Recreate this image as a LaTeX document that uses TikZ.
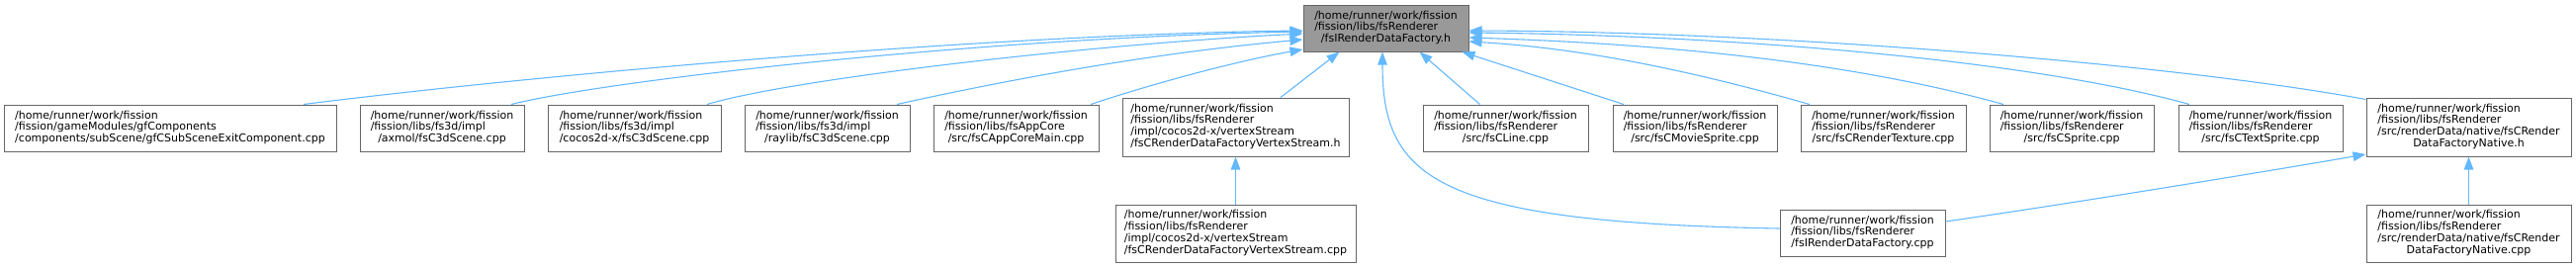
\documentclass[tikz,border=0pt]{standalone}
\usepackage{fontspec}
\setmainfont{DejaVu Sans}
\usetikzlibrary{arrows.meta}
\definecolor{edgeblue}{HTML}{63B8FF}
\definecolor{boxline}{HTML}{666666}
\definecolor{topfill}{HTML}{999999}
% left-aligned lines, last line centred
\newcommand{\flab}[2]{\begin{tabular}{@{}l@{}}#1\\\multicolumn{1}{@{}c@{}}{#2}\end{tabular}}

\begin{document}
\begin{tikzpicture}[x=1pt,y=-1pt,>={Triangle[length=13pt,width=9.5pt]}]
\tikzstyle{filebox}=[draw=boxline, fill=white, line width=1pt, inner sep=0pt, minimum height=47pt, font=\fontsize{11}{11.7}\selectfont]
\tikzstyle{tallbox}=[filebox, minimum height=59pt]
\tikzstyle{dep}=[->, draw=edgeblue, line width=1.1pt]
\useasboundingbox (0,0) rectangle (2605,271);

% Included header
\node[filebox, fill=topfill, minimum width=167pt] (top) at (1401.5,28.5) {\flab{/home/runner/work/fission\\/fission/libs/fsRenderer}{/fsIRenderDataFactory.h}};

% First row
\node[filebox, minimum width=336pt] (subexit) at (172,129.5) {\flab{/home/runner/work/fission\\/fission/gameModules/gfComponents}{/components/subScene/gfCSubSceneExitComponent.cpp}};
\node[filebox, minimum width=166pt] (axmol) at (447,129.5) {\flab{/home/runner/work/fission\\/fission/libs/fs3d/impl}{/axmol/fsC3dScene.cpp}};
\node[filebox, minimum width=175pt] (cocos) at (641.5,129.5) {\flab{/home/runner/work/fission\\/fission/libs/fs3d/impl}{/cocos2d-x/fsC3dScene.cpp}};
\node[filebox, minimum width=167pt] (raylib) at (836.5,129.5) {\flab{/home/runner/work/fission\\/fission/libs/fs3d/impl}{/raylib/fsC3dScene.cpp}};
\node[filebox, minimum width=167pt] (appcore) at (1027.5,129.5) {\flab{/home/runner/work/fission\\/fission/libs/fsAppCore}{/src/fsCAppCoreMain.cpp}};
\node[tallbox, minimum width=229pt] (vsh) at (1249.5,128.5) {\flab{/home/runner/work/fission\\/fission/libs/fsRenderer\\/impl/cocos2d-x/vertexStream}{/fsCRenderDataFactoryVertexStream.h}};
\node[filebox, minimum width=167pt] (cline) at (1522.5,129.5) {\flab{/home/runner/work/fission\\/fission/libs/fsRenderer}{/src/fsCLine.cpp}};
\node[filebox, minimum width=166pt] (movie) at (1714,129.5) {\flab{/home/runner/work/fission\\/fission/libs/fsRenderer}{/src/fsCMovieSprite.cpp}};
\node[filebox, minimum width=167pt] (rtex) at (1904.5,129.5) {\flab{/home/runner/work/fission\\/fission/libs/fsRenderer}{/src/fsCRenderTexture.cpp}};
\node[filebox, minimum width=166pt] (sprite) at (2095,129.5) {\flab{/home/runner/work/fission\\/fission/libs/fsRenderer}{/src/fsCSprite.cpp}};
\node[filebox, minimum width=166pt] (tsprite) at (2286,129.5) {\flab{/home/runner/work/fission\\/fission/libs/fsRenderer}{/src/fsCTextSprite.cpp}};
\node[tallbox, minimum width=207pt] (nath) at (2496.5,128.5) {\flab{/home/runner/work/fission\\/fission/libs/fsRenderer\\/src/renderData/native/fsCRender}{DataFactoryNative.h}};

% Second row
\node[tallbox, minimum width=243pt, minimum height=58pt] (vscpp) at (1249.5,236) {\flab{/home/runner/work/fission\\/fission/libs/fsRenderer\\/impl/cocos2d-x/vertexStream}{/fsCRenderDataFactoryVertexStream.cpp}};
\node[filebox, minimum width=167pt] (factcpp) at (1883.5,235.5) {\flab{/home/runner/work/fission\\/fission/libs/fsRenderer}{/fsIRenderDataFactory.cpp}};
\node[tallbox, minimum width=207pt, minimum height=58pt] (natcpp) at (2496.5,236) {\flab{/home/runner/work/fission\\/fission/libs/fsRenderer\\/src/renderData/native/fsCRender}{DataFactoryNative.cpp}};

% Edges into the header, left side
\draw[dep] ([xshift=135pt]subexit.north) .. controls (550,75) and (1000,35) .. ([yshift=-2.5pt]top.west);
\draw[dep] ([xshift=70pt]axmol.north) .. controls (620,80) and (1000,38) .. ([yshift=-3.5pt]top.west);
\draw[dep] ([xshift=73.5pt]cocos.north) .. controls (800,80) and (1100,45) .. ([yshift=-5.5pt]top.west);
\draw[dep] ([xshift=70.5pt]raylib.north) .. controls (1000,85) and (1150,55) .. ([yshift=-11.5pt]top.west);
\draw[dep] ([xshift=75.5pt]appcore.north) .. controls (1180,80) and (1260,60) .. ([yshift=-21.5pt]top.west);
\draw[dep] ([xshift=45.5pt]vsh.north) -- ([xshift=37pt]top.south west);

% Edges into the header, bottom and right side
\draw[dep] ([yshift=4.5pt]factcpp.west) .. controls (1450,225) and (1398,180) .. ([xshift=-3.5pt]top.south);
\draw[dep] ([xshift=-26pt]cline.north) -- ([xshift=34pt]top.south);
\draw[dep] ([xshift=-72pt]movie.north) -- ([xshift=-7pt]top.south east);
\draw[dep] ([xshift=-74.5pt]rtex.north) .. controls (1740,80) and (1620,50) .. ([yshift=-13.5pt]top.east);
\draw[dep] ([xshift=-69pt]sprite.north) .. controls (1880,65) and (1700,45) .. ([yshift=-9.5pt]top.east);
\draw[dep] ([xshift=-72pt]tsprite.north) .. controls (2050,60) and (1750,36) .. ([yshift=-4.5pt]top.east);
\draw[dep] ([yshift=-2pt]nath.north west) .. controls (2200,65) and (1800,32) .. ([yshift=-2.5pt]top.east);

% Lower includes
\draw[dep] (vscpp.north) -- (vsh.south);
\draw[dep] (natcpp.north) -- (nath.south);
\draw[dep] ([yshift=11.5pt]factcpp.east) .. controls (2100,205) and (2300,172) .. ([yshift=2.5pt]nath.south west);
\end{tikzpicture}
\end{document}
